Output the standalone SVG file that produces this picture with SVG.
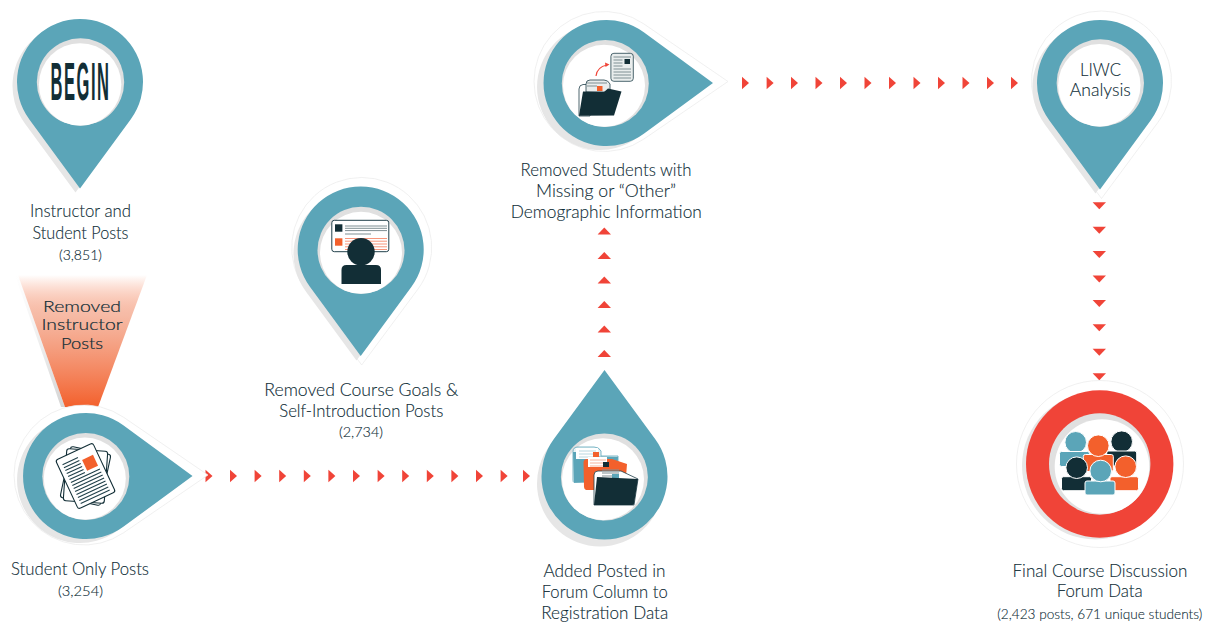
<svg xmlns="http://www.w3.org/2000/svg" width="1213" height="623" viewBox="0 0 1213 623">
<style>
text{font-family:Lato,"Liberation Sans",sans-serif;font-weight:300;fill:#0e2c36;text-anchor:middle;stroke:#0e2c36;stroke-width:.12px}
.l{font-size:17px}
.n{font-size:14px}
.b{font-size:16px;stroke:#0e2c36;stroke-width:.2px}
.halo{fill:#fff;stroke:#e9e9e9;stroke-width:.7}
.sh{fill:#e6e6e6}
.teal{fill:#5ba5b8}
.hole{fill:#e0e0e0}
.white{fill:#fff}
.arr{fill:#f04438}
.dk{fill:#122e36}
.or{fill:#f3602c}
.tl{fill:#5ba5b8}
.sheet{fill:#fff;stroke:#122e36;stroke-width:1.1}
.gl{stroke:#7f8f93;stroke-width:1;fill:none}
.dl{stroke:#21404a;stroke-width:1.1;fill:none}
.ol{stroke:#f7957a;stroke-width:1;fill:none}
.pp{stroke:#fff;stroke-width:1}
</style>
<defs>
<path id="pin" d="M0,106.5L50.8,37.3A63,63 0 1 0 -50.8,37.3Z"/>
<path id="hl" d="M0,117.5L56.2,41.7A70,70 0 1 0 -56.2,41.7Z"/>
<path id="hl2" d="M0,124L57.8,39.5A70,70 0 1 0 -57.8,39.5Z"/>
<polygon id="r" points="0,-6.3 7,0 0,6.3"/>
<polygon id="u" points="0,-3.5 6.7,3.5 -6.7,3.5"/>
<polygon id="d" points="-6.7,-3.5 6.7,-3.5 0,3.5"/>
<linearGradient id="beam" x1="0" y1="0" x2="0" y2="1">
<stop offset="0" stop-color="#f3602c" stop-opacity="0"/>
<stop offset=".3" stop-color="#f3a488" stop-opacity=".75"/>
<stop offset="1" stop-color="#f3602c"/>
</linearGradient>
<linearGradient id="beamS" x1="0" y1="0" x2="0" y2="1">
<stop offset="0" stop-color="#e6e6e6" stop-opacity="0"/>
<stop offset="1" stop-color="#d4d4d4"/>
</linearGradient>
</defs>

<g id="connectors">
<g id="row-bottom">
<use href="#r" class="arr" x="205.5" y="476"/><use href="#r" class="arr" x="230" y="476"/><use href="#r" class="arr" x="254.6" y="476"/><use href="#r" class="arr" x="279.2" y="476"/><use href="#r" class="arr" x="303.8" y="476"/><use href="#r" class="arr" x="328.4" y="476"/><use href="#r" class="arr" x="353" y="476"/><use href="#r" class="arr" x="377.6" y="476"/><use href="#r" class="arr" x="402.2" y="476"/><use href="#r" class="arr" x="426.8" y="476"/><use href="#r" class="arr" x="451.4" y="476"/><use href="#r" class="arr" x="476" y="476"/><use href="#r" class="arr" x="500.6" y="476"/><use href="#r" class="arr" x="523" y="476"/>
</g>
<g id="col-up">
<use href="#u" class="arr" x="604.3" y="231"/><use href="#u" class="arr" x="604.3" y="255.5"/><use href="#u" class="arr" x="604.3" y="280"/><use href="#u" class="arr" x="604.3" y="304.5"/><use href="#u" class="arr" x="604.3" y="329"/><use href="#u" class="arr" x="604.3" y="353.5"/>
</g>
<g id="row-top">
<use href="#r" class="arr" x="742" y="83"/><use href="#r" class="arr" x="766.6" y="83"/><use href="#r" class="arr" x="791" y="83"/><use href="#r" class="arr" x="815.5" y="83"/><use href="#r" class="arr" x="840" y="83"/><use href="#r" class="arr" x="864.5" y="83"/><use href="#r" class="arr" x="889" y="83"/><use href="#r" class="arr" x="913.5" y="83"/><use href="#r" class="arr" x="938" y="83"/><use href="#r" class="arr" x="962.5" y="83"/><use href="#r" class="arr" x="987" y="83"/><use href="#r" class="arr" x="1011" y="83"/>
</g>
<g id="col-down">
<use href="#d" class="arr" x="1099.3" y="205.8"/><use href="#d" class="arr" x="1099.3" y="230.2"/><use href="#d" class="arr" x="1099.3" y="254.6"/><use href="#d" class="arr" x="1099.3" y="279"/><use href="#d" class="arr" x="1099.3" y="303.4"/><use href="#d" class="arr" x="1099.3" y="327.8"/><use href="#d" class="arr" x="1099.3" y="352.2"/><use href="#d" class="arr" x="1099.3" y="376.7"/>
</g>
</g>

<g id="beam-removed">
<polygon points="15,275 18,275 65,407 61,407" fill="url(#beamS)"/>
<polygon points="18,275 147,275 98,407 65,407" fill="url(#beam)"/>
<text class="b" x="82" y="311.5" textLength="78" lengthAdjust="spacingAndGlyphs">Removed</text>
<text class="b" x="82" y="330" textLength="81" lengthAdjust="spacingAndGlyphs">Instructor</text>
<text class="b" x="82" y="348.5" textLength="42" lengthAdjust="spacingAndGlyphs">Posts</text>
</g>

<g id="node-begin">
<use href="#pin" class="sh" transform="translate(75.5,86)"/>
<use href="#pin" class="teal" transform="translate(80,82)"/>
<circle class="hole" cx="80.5" cy="82" r="43.7"/>
<circle class="white" cx="80.1" cy="84.4" r="41.2"/>
<text x="80.5" y="100" font-size="53" textLength="60" lengthAdjust="spacingAndGlyphs" style="font-family:'Liberation Sans',sans-serif;font-weight:700;fill:#122e36;stroke:none;letter-spacing:5px">BEGIN</text>
<text class="l" x="80.5" y="217.3" textLength="101" lengthAdjust="spacingAndGlyphs">Instructor and</text>
<text class="l" x="80.5" y="238.5" textLength="96" lengthAdjust="spacingAndGlyphs">Student Posts</text>
<text class="n" x="80.5" y="259.5" textLength="43" lengthAdjust="spacingAndGlyphs">(3,851)</text>
</g>

<g id="node-student-only">
<use href="#hl2" class="halo" transform="translate(84,475) rotate(-90)"/>
<use href="#pin" class="sh" transform="translate(80,480) rotate(-90)"/>
<use href="#pin" class="teal" transform="translate(86,476) rotate(-90)"/>
<circle class="hole" cx="85.8" cy="476.5" r="43.5"/>
<circle class="white" cx="84.8" cy="478.6" r="41"/>
<g transform="rotate(12 85.5 476)"><rect class="sheet" x="65" y="450" width="41" height="52" rx="2.5"/></g>
<g transform="rotate(4 85.5 476)"><rect class="sheet" x="65" y="450" width="41" height="52" rx="2.5"/></g>
<g transform="translate(85.5,476) rotate(-25)">
<rect class="sheet" x="-20.5" y="-27" width="41" height="54" rx="2.5"/>
<path class="dl" d="M-16,-20H1M-16,-16.7H1M-16,-13.4H1M-16,-10.1H1M-16,-6.8H1M-16,-3.5H1M-16,-.2H16M-16,3.1H16M-16,6.4H16M-16,9.7H16M-16,13H16M-16,16.3H16M-16,19.6H16M-16,22.9H16"/>
<rect class="or" x="3.7" y="-16" width="12" height="12"/>
</g>
<text class="l" x="80" y="575" textLength="138" lengthAdjust="spacingAndGlyphs">Student Only Posts</text>
<text class="n" x="80.5" y="595.5" textLength="45" lengthAdjust="spacingAndGlyphs">(3,254)</text>
</g>

<g id="node-course-goals">
<use href="#hl" class="halo" transform="translate(361.7,247.5)"/>
<use href="#pin" class="sh" transform="translate(356.5,254)"/>
<use href="#pin" class="teal" transform="translate(360.7,249.5)"/>
<circle class="hole" cx="361" cy="250.3" r="43.5"/>
<circle class="white" cx="361" cy="252.8" r="41"/>
<rect x="331.8" y="220.3" width="57" height="31.4" rx="2.5" fill="#fff" stroke="#21404a" stroke-width="1"/>
<rect class="dk" x="335" y="224.3" width="7.4" height="7.4"/>
<rect class="or" x="335" y="238.3" width="7.4" height="7.4"/>
<path class="gl" d="M345,226H387M345,228.3H387M345,230.6H387M345,234H371"/>
<path class="ol" d="M345,238.5H387M345,241.2H387M345,244H387M345,246.8H387M345,249.5H387"/>
<circle class="dk" cx="361" cy="251.7" r="13.7"/>
<path class="dk" d="M341.5,284V270Q341.5,265 346.5,265H376Q381,265 381,270V284Z"/>
<text class="l" x="361.3" y="395.7" textLength="194" lengthAdjust="spacingAndGlyphs">Removed Course Goals &amp;</text>
<text class="l" x="361.3" y="416.7" textLength="164" lengthAdjust="spacingAndGlyphs">Self-Introduction Posts</text>
<text class="n" x="361" y="437" textLength="44" lengthAdjust="spacingAndGlyphs">(2,734)</text>
</g>

<g id="node-added-posted">
<use href="#pin" class="sh" transform="translate(600,483.5) rotate(180)"/>
<use href="#pin" class="teal" transform="translate(604.5,476.5) rotate(180)"/>
<circle class="hole" cx="604.4" cy="477" r="43.5"/>
<circle class="white" cx="603" cy="479.2" r="41"/>
<path d="M573,451.5Q573,447 578,447H594Q599,447 601,451V456L618,456V481L574,482.5Q573,482 573,480Z" fill="#e8f2f5" stroke="#5ba5b8" stroke-width=".8"/>
<path class="tl" d="M573,452L583,452L583,456L618,457L617,481L574,482.5Z"/>
<path d="M576,448H598V459H576Z" fill="#fff"/>
<path d="M579,451H596M579,454H596M579,457H596" stroke="#b9d8e0" fill="none"/>
<path class="or" d="M583.5,462Q584,459 587,459H612L627,464L625,490L586,490Q584,489 584,487Z"/>
<path d="M588,457H607V467H588Z" fill="#fff"/>
<rect class="or" x="593" y="452" width="6" height="5"/>
<path d="M590,460H606M590,463H606M590,466H606" stroke="#f7b39b" fill="none"/>
<path d="M594,475Q594,471 598,471H621L638,479L634,505L594,505Z" fill="#fff" stroke="#21404a" stroke-width=".8"/>
<rect class="dk" x="603" y="462" width="6" height="5"/>
<path class="gl" d="M602,470H619M602,473H619M602,476H619"/>
<rect class="tl" x="612" y="474" width="7" height="5"/>
<path class="dk" d="M597,477L638,479L634,504Q634,505 632,505H594Z"/>
<text class="l" x="604.5" y="576.7" textLength="122" lengthAdjust="spacingAndGlyphs">Added Posted in</text>
<text class="l" x="604.7" y="598" textLength="126" lengthAdjust="spacingAndGlyphs">Forum Column to</text>
<text class="l" x="604.7" y="618.5" textLength="127" lengthAdjust="spacingAndGlyphs">Registration Data</text>
</g>

<g id="node-removed-students">
<use href="#hl2" class="halo" transform="translate(604,81.5) rotate(-90)"/>
<use href="#pin" class="sh" transform="translate(600,87) rotate(-90)"/>
<use href="#pin" class="teal" transform="translate(606.5,83) rotate(-90)"/>
<circle class="hole" cx="605.3" cy="83.5" r="43.5"/>
<circle class="white" cx="604" cy="85.8" r="41"/>
<rect x="610.9" y="53.3" width="22.4" height="28" rx="3" fill="#e9eded" stroke="#21404a" stroke-width=".8"/>
<path class="gl" d="M613.5,57H631M613.5,60H622.5M613.5,63H622.5M613.5,66H622.5M613.5,69H631M613.5,72H631M613.5,75H631M613.5,78H631"/>
<rect class="dk" x="624.5" y="59" width="5.5" height="5"/>
<path d="M596,76Q597,67 607,65" fill="none" stroke="#f04438" stroke-width="1.2"/>
<polygon class="arr" points="609.5,64.5 605,62.5 605.5,67"/>
<path d="M579,116V89Q579,85 583,84.5H590V116Z" fill="#fff" stroke="#21404a" stroke-width=".8"/>
<path d="M586,92V84Q586,80 590,80H604Q608,80 610,84V92Z" fill="#e9eded" stroke="#21404a" stroke-width=".8"/>
<path class="gl" d="M587,83H607M587,86H597"/>
<rect class="or" x="597" y="86" width="5.5" height="5"/>
<path class="dk" d="M583,91.5L604,92L608,88.5L621.5,91.5L614,115.5L579,115.7Z"/>
<text class="l" x="606" y="176" textLength="171" lengthAdjust="spacingAndGlyphs">Removed Students with</text>
<text class="l" x="606" y="197.3" textLength="140" lengthAdjust="spacingAndGlyphs">Missing or “Other”</text>
<text class="l" x="606.3" y="217.7" textLength="191" lengthAdjust="spacingAndGlyphs">Demographic Information</text>
</g>

<g id="node-liwc">
<use href="#hl" class="halo" transform="translate(1101.5,81)"/>
<use href="#pin" class="sh" transform="translate(1095.5,87)"/>
<use href="#pin" class="teal" transform="translate(1100,83)"/>
<circle class="hole" cx="1100.3" cy="83" r="43.7"/>
<circle class="white" cx="1099.3" cy="85.3" r="41.2"/>
<text class="l" x="1100.5" y="76" textLength="41" lengthAdjust="spacingAndGlyphs">LIWC</text>
<text class="l" x="1100.3" y="96" textLength="61" lengthAdjust="spacingAndGlyphs">Analysis</text>
</g>

<g id="node-final">
<circle class="halo" cx="1100" cy="464" r="83.5"/>
<circle class="sh" cx="1095.5" cy="466" r="73.5"/>
<circle cx="1099.7" cy="464" r="73.7" fill="#f04438"/>
<circle class="hole" cx="1099.7" cy="464" r="50.7"/>
<circle class="white" cx="1102" cy="466.5" r="47.3"/>
<g class="pp">
<circle class="tl" cx="1075.7" cy="442.3" r="10.8"/>
<rect class="tl" x="1059.5" y="451.5" width="30" height="15" rx="2"/>
<circle class="dk" cx="1121.7" cy="441.7" r="10.8"/>
<rect class="dk" x="1106.7" y="451" width="30" height="15" rx="2"/>
<rect class="or" x="1083.3" y="454.5" width="30" height="17" rx="2"/>
<circle class="or" cx="1098.3" cy="445.7" r="10.8"/>
<rect class="dk" x="1061.5" y="476.7" width="30" height="14" rx="2"/>
<circle class="dk" cx="1076.7" cy="467.7" r="10.8"/>
<rect class="or" x="1110" y="476.7" width="28.5" height="14" rx="2"/>
<circle class="or" cx="1125.7" cy="466.7" r="10.8"/>
<rect class="tl" x="1085" y="481" width="30" height="14" rx="2"/>
<circle class="tl" cx="1100.7" cy="471" r="10.8"/>
</g>
<text class="l" x="1100" y="577.3" textLength="175" lengthAdjust="spacingAndGlyphs">Final Course Discussion</text>
<text class="l" x="1099.7" y="597.3" textLength="86" lengthAdjust="spacingAndGlyphs">Forum Data</text>
<text class="n" x="1099.8" y="619" textLength="205" lengthAdjust="spacingAndGlyphs">(2,423 posts, 671 unique students)</text>
</g>
</svg>
